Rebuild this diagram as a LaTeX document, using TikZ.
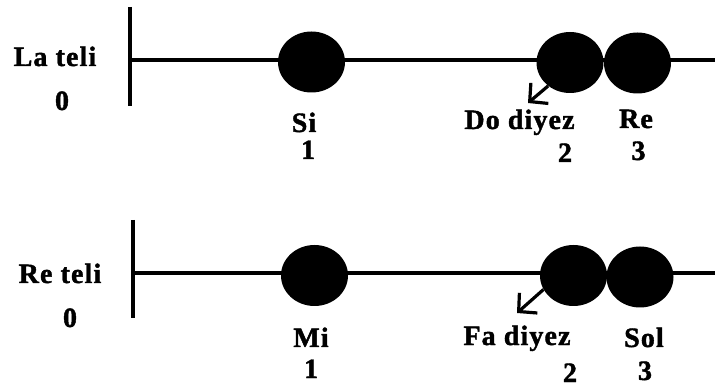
\documentclass[tikz,border=0pt]{standalone}
\usepackage{fontspec}
\setmainfont{Liberation Serif}[BoldFont={Liberation Serif Bold}, BoldFeatures={FakeBold=1.5}, LetterSpace=4]
\usetikzlibrary{arrows.meta,shapes.geometric}

\begin{document}
\begin{tikzpicture}[x=1pt, y=-1pt,
  tel/.style={line width=4pt},
  perde/.style={ellipse, fill=black, inner sep=0pt, minimum width=67pt, minimum height=61pt},
  etiket/.style={anchor=base, inner sep=0pt, font=\bfseries\fontsize{28}{30}\selectfont},
  ok/.style={line width=3.2pt, line join=miter, -{Straight Barb[length=13pt,width=27pt]}}]

\useasboundingbox (0,0) rectangle (715,387);

% La teli
\coordinate (la top) at (130,7);
\coordinate (la bottom) at (130,106);
\coordinate (la start) at (130,60.5);
\coordinate (la end) at (715,60.5);
\draw[tel] (la top) -- (la bottom);
\draw[tel] (la start) -- (la end);

\node[perde] (si) at (311.5,62) {};
\node[perde] (dodiyez) at (570,62.5) {};
\node[perde] (re) at (637.5,63) {};

\coordinate (do tip) at (528,103);
\draw[ok] (dodiyez.227) -- (do tip);

\node[etiket] (la name) at (55,66) {La teli};
\node[etiket] (la num) at (62,110) {0};
\node[etiket] (si name) at (304,132) {Si};
\node[etiket] (si num) at (308,159) {1};
\node[etiket] (dodiyez name) at (519.5,129) {Do diyez};
\node[etiket] (dodiyez num) at (565,162) {2};
\node[etiket] (re name) at (636,128) {Re};
\node[etiket] (re num) at (638.5,160) {3};

% Re teli
\coordinate (re top) at (132.5,220);
\coordinate (re bottom) at (132.5,318);
\coordinate (re start) at (132.5,273.5);
\coordinate (re end) at (715,273.5);
\draw[tel] (re top) -- (re bottom);
\draw[tel] (re start) -- (re end);

\node[perde] (mi) at (314.5,275.5) {};
\node[perde] (fadiyez) at (573.5,275.5) {};
\node[perde] (sol) at (640,277) {};

\coordinate (fa tip) at (517,313);
\draw[ok] (fadiyez.205) -- (fa tip);

\node[etiket] (re teli name) at (60,283) {Re teli};
\node[etiket] (re teli num) at (70,327) {0};
\node[etiket] (mi name) at (311,347) {Mi};
\node[etiket] (mi num) at (311,378) {1};
\node[etiket] (fadiyez name) at (517,345) {Fa diyez};
\node[etiket] (fadiyez num) at (570,382) {2};
\node[etiket] (sol name) at (644,347) {Sol};
\node[etiket] (sol num) at (645,380) {3};

\end{tikzpicture}
\end{document}
